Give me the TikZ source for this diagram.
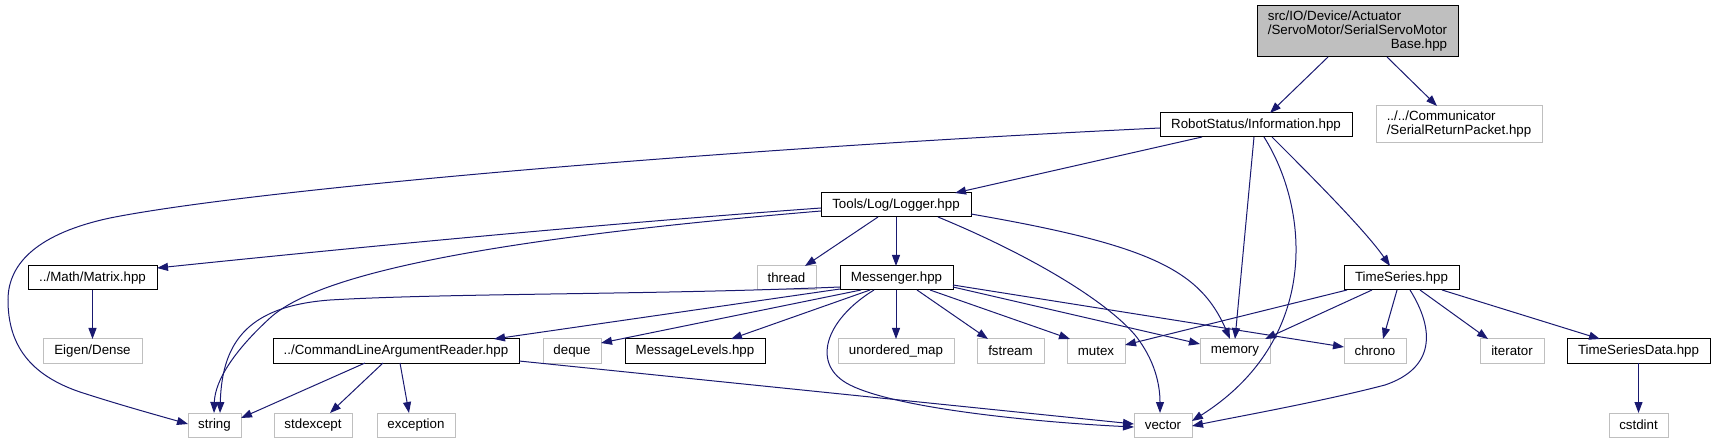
\documentclass[tikz,border=0pt]{standalone}
\usepackage{fontspec}
\setmainfont{Liberation Sans}
\usetikzlibrary{arrows.meta}
\definecolor{navy}{HTML}{191970}
\definecolor{gbox}{HTML}{BFBFBF}
\newcommand{\dxfont}{\fontsize{13.33}{14}\selectfont}
\tikzset{
  box/.style={draw=black, line width=1pt, inner sep=0pt, outer sep=0pt, minimum height=24pt, font=\dxfont, text=black},
  ext/.style={box, draw=gbox},
  edge/.style={draw=navy, line width=1pt, -{Triangle[length=11pt,width=8pt]}},
}
\begin{document}
\begin{tikzpicture}[x=1pt,y=-1pt]
\useasboundingbox (0,0) rectangle (1715,443);
% nodes
\node[box, fill=gbox, minimum width=201pt, minimum height=51pt] (root) at (1357.5,31.5)
  {\begin{tabular}{@{}l@{}}src/IO/Device/Actuator\\/ServoMotor/SerialServoMotor\\\multicolumn{1}{@{}r@{}}{Base.hpp}\end{tabular}};
\node[ext, minimum width=166pt, minimum height=37pt] (srp) at (1459,124.5)
  {\begin{tabular}{@{}l@{}}../../Communicator\\/SerialReturnPacket.hpp\end{tabular}};
\node[box, minimum width=192pt] (info) at (1256,125) {RobotStatus/Information.hpp};
\node[box, minimum width=150pt] (logger) at (896,205) {Tools/Log/Logger.hpp};
\node[box, minimum width=129pt] (matrix) at (92.5,278) {../Math/Matrix.hpp};
\node[ext, minimum width=59pt] (thread) at (786.5,278) {thread};
\node[box, minimum width=113pt] (messenger) at (896.5,278) {Messenger.hpp};
\node[box, minimum width=115pt] (ts) at (1401.5,278) {TimeSeries.hpp};
\node[ext, minimum width=99pt] (eigen) at (92.5,351) {Eigen/Dense};
\node[box, minimum width=246pt] (cmd) at (396,351) {../CommandLineArgumentReader.hpp};
\node[ext, minimum width=58pt] (deque) at (572,351) {deque};
\node[box, minimum width=140pt] (msglevels) at (695,351) {MessageLevels.hpp};
\node[ext, minimum width=116pt] (umap) at (896,351) {unordered\_map};
\node[ext, minimum width=67pt] (fstream) at (1010.5,351) {fstream};
\node[ext, minimum width=58pt] (mutex) at (1096,351) {mutex};
\node[ext, minimum width=70pt] (memory) at (1235,351) {memory};
\node[ext, minimum width=62pt] (chrono) at (1375,351) {chrono};
\node[ext, minimum width=64pt] (iterator) at (1512,351) {iterator};
\node[box, minimum width=143pt] (tsdata) at (1638.5,351) {TimeSeriesData.hpp};
\node[ext, minimum width=53pt] (string) at (214.5,425) {string};
\node[ext, minimum width=78pt] (stdexcept) at (313,425) {stdexcept};
\node[ext, minimum width=78pt] (exception) at (416,425) {exception};
\node[ext, minimum width=58pt] (vector) at (1163,425) {vector};
\node[ext, minimum width=59pt] (cstdint) at (1638.5,425) {cstdint};
% root
\draw[edge] (1328,0 |- root.south) -- (1270,0 |- info.north);
\draw[edge] (1387,0 |- root.south) -- (1437,0 |- srp.north);
% info
\draw[edge] (info.west |- 0,128) .. controls (700,150) and (250,190) .. (110,218)
  .. controls (40,233) and (8,262) .. (8,300)
  .. controls (8,345) and (30,375) .. (80,392)
  .. controls (120,405) and (160,416) .. (string.west |- 0,424);
\draw[edge] (1202,0 |- info.south) -- (955,0 |- logger.north);
\draw[edge] (1254,0 |- info.south) -- (1235,0 |- memory.north);
\draw[edge] (1264,0 |- info.south) .. controls (1310,210) and (1320,340) .. (vector.east |- 0,421);
\draw[edge] (1272,0 |- info.south) .. controls (1310,175) and (1365,230) .. (1390,0 |- ts.north);
% logger
\draw[edge] (logger.west |- 0,208) .. controls (600,224) and (350,248) .. (matrix.east |- 0,268);
\draw[edge] (logger.west |- 0,211) .. controls (500,238) and (320,272) .. (270,318)
  .. controls (235,350) and (215,380) .. (214,0 |- string.north);
\draw[edge] (878,0 |- logger.south) -- (805,0 |- thread.north);
\draw[edge] (896,0 |- logger.south) -- (896,0 |- messenger.north);
\draw[edge] (938,0 |- logger.south) .. controls (1030,255) and (1105,300) .. (1135,335)
  .. controls (1155,360) and (1160,385) .. (1160,0 |- vector.north);
\draw[edge] (logger.east |- 0,214) .. controls (1150,245) and (1200,270) .. (1230,0 |- memory.north);
% matrix
\draw[edge] (matrix) -- (eigen);
% messenger
\draw[edge] (messenger.west |- 0,287) .. controls (650,295) and (450,293) .. (330,300)
  .. controls (250,306) and (222,340) .. (220,0 |- string.north);
\draw[edge] (messenger.west |- 0,289) -- (494,0 |- cmd.north);
\draw[edge] (861,0 |- messenger.south) -- (deque.east |- 0,343);
\draw[edge] (870,0 |- messenger.south) -- (731,0 |- msglevels.north);
\draw[edge] (874,0 |- messenger.south) .. controls (825,320) and (810,365) .. (850,385)
  .. controls (900,410) and (1050,423) .. (vector.west |- 0,427);
\draw[edge] (896,0 |- messenger.south) -- (896,0 |- umap.north);
\draw[edge] (917,0 |- messenger.south) -- (988,0 |- fstream.north);
\draw[edge] (930,0 |- messenger.south) -- (1070,0 |- mutex.north);
\draw[edge] (messenger.east |- 0,287) -- (memory.west |- 0,344);
\draw[edge] (messenger.east |- 0,285) -- (chrono.west |- 0,347);
% cmd
\draw[edge] (365,0 |- cmd.south) -- (string.east |- 0,418);
\draw[edge] (383,0 |- cmd.south) -- (330,0 |- stdexcept.north);
\draw[edge] (400,0 |- cmd.south) -- (409,0 |- exception.north);
\draw[edge] (cmd.east |- 0,361) -- (vector.west |- 0,424);
% timeseries
\draw[edge] (1347,0 |- ts.south) -- (mutex.east |- 0,345);
\draw[edge] (1372,0 |- ts.south) -- (1265,0 |- memory.north);
\draw[edge] (1397,0 |- ts.south) -- (1383,0 |- chrono.north);
\draw[edge] (1410,0 |- ts.south) .. controls (1435,330) and (1435,368) .. (1385,385)
  .. controls (1320,402) and (1230,418) .. (vector.east |- 0,426);
\draw[edge] (1420,0 |- ts.south) -- (1488,0 |- iterator.north);
\draw[edge] (1442,0 |- ts.south) -- (1600,0 |- tsdata.north);
% tsdata
\draw[edge] (tsdata) -- (cstdint);
\end{tikzpicture}
\end{document}
